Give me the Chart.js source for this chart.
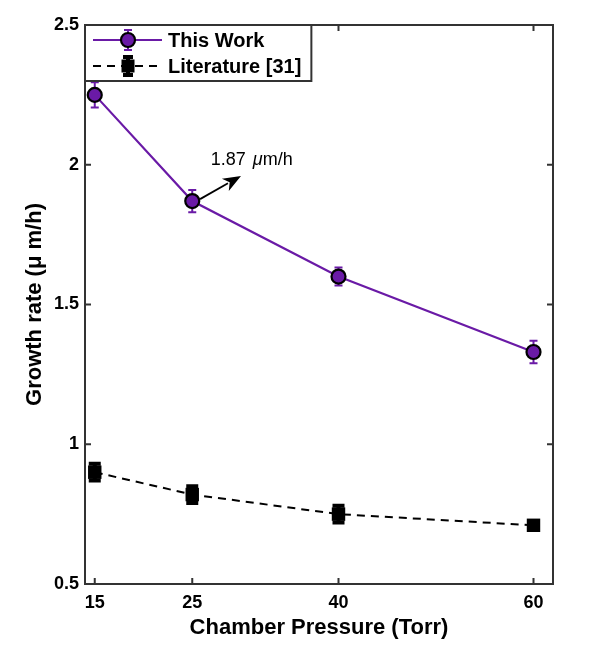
<!DOCTYPE html>
<html><head><meta charset="utf-8">
<script src="https://cdn.jsdelivr.net/npm/chart.js@4.4.0/dist/chart.umd.min.js"></script>
<style>html,body{margin:0;padding:0;background:#fff}#wrap{width:594px;height:652px;position:relative}</style>
</head><body><div id="wrap"><canvas id="c"></canvas></div>
<script>
// ---- data ----
const pressures = [15, 25, 40, 60];
const thisWork = [2.25, 1.87, 1.60, 1.33];
const thisWorkErr = [0.045, 0.04, 0.032, 0.04];
const literature = [0.90, 0.82, 0.75, 0.71];
const literatureErr = [0.03, 0.03, 0.03, 0.0];
const xTicks = [15, 25, 40, 60];
const yTicks = [0.5, 1, 1.5, 2, 2.5];
const seriesLabels = ['This Work', 'Literature [31]'];
const xTitle = 'Chamber Pressure (Torr)';
const yTitle = 'Growth rate (\u03bc m/h)';
const noteText = ['1.87 ', '\u03bc', 'm/h'];
const noteArrowFrom = [25.8, 1.877];
const noteArrowTo = [30.0, 1.96];
const noteTextAt = [26.9, 2.0];

// ---- styles ----
const FONT = "Arial, 'Liberation Sans', Helvetica, sans-serif";
const PURPLE = '#6a1aa6';
const FRAME = '#333333';

const pts = (xs, ys) => xs.map((x, i) => ({x: x, y: ys[i]}));

const errorBars = {
  id: 'errorBars',
  beforeDatasetsDraw(chart) {
    const {ctx, scales: {x, y}} = chart;
    chart.data.datasets.forEach(ds => {
      if (!ds.errors) return;
      ctx.save();
      ctx.strokeStyle = ds.errColor;
      ctx.lineWidth = ds.errWidth;
      ds.data.forEach((p, i) => {
        const e = ds.errors[i];
        if (!e) return;
        const px = x.getPixelForValue(p.x);
        const y1 = y.getPixelForValue(p.y + e), y2 = y.getPixelForValue(p.y - e);
        ctx.beginPath();
        ctx.moveTo(px, y1); ctx.lineTo(px, y2);
        ctx.moveTo(px - ds.capHalf, y1); ctx.lineTo(px + ds.capHalf, y1);
        ctx.moveTo(px - ds.capHalf, y2); ctx.lineTo(px + ds.capHalf, y2);
        ctx.stroke();
      });
      ctx.restore();
    });
  }
};

const frameAndExtras = {
  id: 'frameAndExtras',
  afterDatasetsDraw(chart) {
    const {ctx, chartArea: a, scales: {x, y}} = chart;
    ctx.save();
    // frame
    ctx.strokeStyle = FRAME; ctx.lineWidth = 2;
    ctx.strokeRect(a.left, a.top, a.right - a.left, a.bottom - a.top);
    // inward ticks
    ctx.beginPath();
    x.ticks.forEach(t => {
      const px = x.getPixelForValue(t.value);
      ctx.moveTo(px, a.bottom); ctx.lineTo(px, a.bottom - 6);
      ctx.moveTo(px, a.top); ctx.lineTo(px, a.top + 6);
    });
    y.ticks.forEach(t => {
      const py = y.getPixelForValue(t.value);
      ctx.moveTo(a.left, py); ctx.lineTo(a.left + 6, py);
      ctx.moveTo(a.right, py); ctx.lineTo(a.right - 6, py);
    });
    ctx.stroke();

    // annotation arrow
    const ax1 = x.getPixelForValue(noteArrowFrom[0]), ay1 = y.getPixelForValue(noteArrowFrom[1]);
    const ax2 = x.getPixelForValue(noteArrowTo[0]), ay2 = y.getPixelForValue(noteArrowTo[1]);
    const ang = Math.atan2(ay2 - ay1, ax2 - ax1);
    const hl = 18, hw = 7;
    const bx = ax2 - hl * Math.cos(ang), by = ay2 - hl * Math.sin(ang);
    ctx.strokeStyle = '#000'; ctx.lineWidth = 1.8;
    ctx.beginPath(); ctx.moveTo(ax1, ay1); ctx.lineTo(bx + 3 * Math.cos(ang), by + 3 * Math.sin(ang)); ctx.stroke();
    ctx.fillStyle = '#000';
    ctx.beginPath();
    ctx.moveTo(ax2, ay2);
    ctx.lineTo(bx - hw * Math.sin(ang), by + hw * Math.cos(ang));
    ctx.lineTo(bx + 5 * Math.cos(ang), by + 5 * Math.sin(ang));
    ctx.lineTo(bx + hw * Math.sin(ang), by - hw * Math.cos(ang));
    ctx.closePath(); ctx.fill();

    // annotation text
    let tx = x.getPixelForValue(noteTextAt[0]);
    const ty = y.getPixelForValue(noteTextAt[1]);
    ctx.textBaseline = 'alphabetic'; ctx.textAlign = 'left';
    ctx.font = '18px ' + FONT;
    ctx.fillText(noteText[0], tx, ty); tx += ctx.measureText(noteText[0]).width + 2;
    ctx.font = 'italic 18px ' + FONT;
    ctx.fillText(noteText[1], tx, ty); tx += ctx.measureText(noteText[1]).width;
    ctx.font = '18px ' + FONT;
    ctx.fillText(noteText[2], tx, ty);

    // legend
    ctx.font = 'bold 20px ' + FONT;
    const tw = Math.max(...seriesLabels.map(s => ctx.measureText(s).width));
    const lx = a.left, ly = a.top, lw = 83 + tw + 10, lh = 56;
    ctx.fillStyle = '#fff'; ctx.fillRect(lx, ly, lw, lh);
    ctx.strokeStyle = FRAME; ctx.lineWidth = 2; ctx.strokeRect(lx, ly, lw, lh);
    const rows = [ly + 15, ly + 41];
    const mx = lx + 43;
    // row 1
    ctx.strokeStyle = PURPLE; ctx.lineWidth = 2;
    ctx.beginPath(); ctx.moveTo(lx + 8, rows[0]); ctx.lineTo(lx + 77, rows[0]); ctx.stroke();
    ctx.beginPath();
    ctx.moveTo(mx, rows[0] - 10); ctx.lineTo(mx, rows[0] + 10);
    ctx.moveTo(mx - 4, rows[0] - 10); ctx.lineTo(mx + 4, rows[0] - 10);
    ctx.moveTo(mx - 4, rows[0] + 10); ctx.lineTo(mx + 4, rows[0] + 10);
    ctx.stroke();
    ctx.beginPath(); ctx.arc(mx, rows[0], 7, 0, Math.PI * 2);
    ctx.fillStyle = PURPLE; ctx.fill(); ctx.strokeStyle = '#000'; ctx.lineWidth = 2.2; ctx.stroke();
    // row 2
    ctx.strokeStyle = '#000'; ctx.lineWidth = 2; ctx.setLineDash([8, 6]);
    ctx.beginPath(); ctx.moveTo(lx + 8, rows[1]); ctx.lineTo(lx + 77, rows[1]); ctx.stroke();
    ctx.setLineDash([]);
    ctx.lineWidth = 4;
    ctx.beginPath();
    ctx.moveTo(mx, rows[1] - 10); ctx.lineTo(mx, rows[1] + 10);
    ctx.moveTo(mx - 5, rows[1] - 9); ctx.lineTo(mx + 5, rows[1] - 9);
    ctx.moveTo(mx - 5, rows[1] + 9); ctx.lineTo(mx + 5, rows[1] + 9);
    ctx.stroke();
    ctx.fillStyle = '#000'; ctx.fillRect(mx - 6.5, rows[1] - 6.5, 13, 13);
    // labels
    ctx.fillStyle = '#000'; ctx.textBaseline = 'middle';
    ctx.font = 'bold 20px ' + FONT;
    ctx.fillText(seriesLabels[0], lx + 83, rows[0] + 1);
    ctx.fillText(seriesLabels[1], lx + 83, rows[1] + 1);
    ctx.restore();
  }
};

const canvas = document.getElementById('c');
new Chart(canvas, {
  type: 'scatter',
  data: {
    datasets: [
      {
        label: seriesLabels[0],
        data: pts(pressures, thisWork),
        errors: thisWorkErr, errColor: PURPLE, errWidth: 2, capHalf: 4,
        showLine: true,
        borderColor: PURPLE, borderWidth: 2.2,
        pointStyle: 'circle', pointRadius: 7, pointHoverRadius: 7,
        pointBackgroundColor: PURPLE, pointBorderColor: '#000', pointBorderWidth: 2.2
      },
      {
        label: seriesLabels[1],
        data: pts(pressures, literature),
        errors: literatureErr, errColor: '#000', errWidth: 4, capHalf: 6,
        showLine: true,
        borderColor: '#000', borderWidth: 2, borderDash: [8, 6],
        pointStyle: 'rect', pointRadius: 9.5, pointHoverRadius: 9.5,
        pointBackgroundColor: '#000', pointBorderColor: '#000', pointBorderWidth: 0
      }
    ]
  },
  options: {
    responsive: true,
    maintainAspectRatio: false,
    animation: false,
    events: [],
    layout: {padding: {top: 25, right: 41, left: 0, bottom: 0}},
    plugins: {legend: {display: false}, tooltip: {enabled: false}},
    scales: {
      x: {
        type: 'linear', min: 14, max: 62,
        afterBuildTicks: s => { s.ticks = xTicks.map(v => ({value: v})); },
        afterFit: s => { s.height = 68; },
        grid: {display: false, drawTicks: false},
        border: {display: false},
        ticks: {color: '#000', padding: 8, autoSkip: false, maxRotation: 0,
          font: {family: FONT, size: 18, weight: 'bold'}, callback: v => String(v)},
        title: {display: true, text: xTitle, color: '#000',
          font: {family: FONT, size: 22, weight: 'bold'}, padding: {top: 0, bottom: 11}}
      },
      y: {
        type: 'linear', min: 0.5, max: 2.5,
        afterBuildTicks: s => { s.ticks = yTicks.map(v => ({value: v})); },
        afterFit: s => { s.width = 85; },
        grid: {display: false, drawTicks: false},
        border: {display: false},
        ticks: {color: '#000', padding: 6,
          font: {family: FONT, size: 18, weight: 'bold'}, callback: v => String(v)},
        title: {display: true, text: yTitle, color: '#000',
          font: {family: FONT, size: 22, weight: 'bold'}, padding: {top: 22, bottom: 0}}
      }
    }
  },
  plugins: [errorBars, frameAndExtras]
});
</script>
</body></html>
